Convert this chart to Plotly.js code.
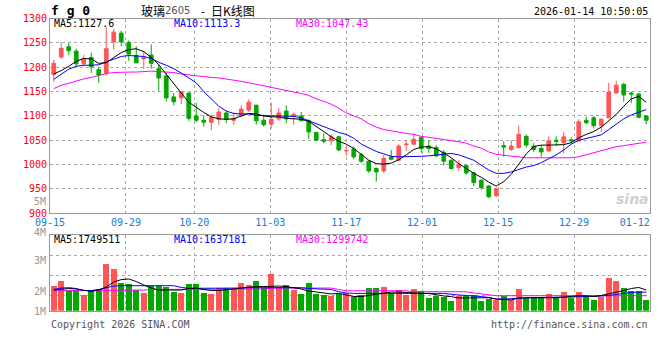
<!DOCTYPE html>
<html>
<head>
<meta charset="utf-8">
<script src="https://cdn.plot.ly/plotly-3.0.1.min.js"></script>
<style>html,body{margin:0;padding:0;background:#fff}#chart{width:660px;height:360px}</style>
</head>
<body>
<div id="chart"></div>
<script>
const dates = ['09-15','09-16','09-17','09-18','09-19','09-22','09-23','09-24','09-25','09-26','09-29','09-30',
'10-09','10-10','10-13','10-14','10-15','10-16','10-17','10-20','10-21','10-22','10-23','10-24','10-27','10-28','10-29','10-30','10-31',
'11-03','11-04','11-05','11-06','11-07','11-10','11-11','11-12','11-13','11-14','11-17','11-18','11-19','11-20','11-21','11-24','11-25','11-26','11-27','11-28',
'12-01','12-02','12-03','12-04','12-05','12-08','12-09','12-10','12-11','12-12','12-15','12-16','12-17','12-18','12-19','12-22','12-23','12-24','12-25','12-26','12-29','12-30','12-31',
'01-05','01-06','01-07','01-08','01-09','01-12','01-13','01-14'];

const open = [1185,1221,1242,1233,1207,1220,1195,1188,1252,1270,
1251,1224,1217,1225,1197,1182,1139,1137,1147,1100,
1091,1087,1093,1106,1091,1100,1112,1122,1091,1083,
1094,1110,1100,1100,1090,1066,1051,1049,1057,1028,
1032,1020,1007,992,987,1016,1009,1041,1042,1056,
1038,1035,1025,1009,994,998,983,968,956,936,
1039,1031,1035,1058,1038,1033,1028,1050,1045,1051,
1049,1091,1096,1080,1096,1147,1165,1147,1145,1100];
const high = [1215,1251,1250,1238,1225,1230,1201,1282,1278,1275,
1255,1243,1234,1247,1206,1188,1147,1150,1148,1127,
1101,1103,1116,1110,1107,1122,1134,1123,1103,1127,
1116,1122,1107,1108,1093,1067,1064,1062,1059,1037,
1037,1024,1008,994,1020,1030,1042,1050,1064,1057,
1050,1040,1030,1010,1009,1000,985,970,958,953,
1048,1050,1080,1062,1044,1040,1058,1058,1067,1056,
1093,1098,1100,1096,1168,1172,1168,1150,1147,1101];
const low = [1170,1217,1225,1201,1202,1188,1168,1183,1236,1243,
1213,1208,1196,1197,1151,1130,1122,1124,1090,1087,
1078,1071,1082,1085,1082,1097,1108,1082,1078,1074,
1090,1085,1082,1089,1053,1049,1044,1040,1028,1018,
1011,1003,983,965,983,1009,1007,1028,1040,1024,
1024,1016,998,990,987,979,956,948,931,934,
1016,1028,1033,1035,1026,1016,1026,1038,1023,1044,
1047,1083,1074,1067,1095,1146,1129,1126,1095,1083];
const close = [1208,1239,1234,1207,1218,1201,1184,1238,1272,1252,
1227,1209,1220,1208,1178,1137,1129,1149,1095,1091,
1087,1097,1108,1093,1095,1114,1128,1090,1082,1093,
1106,1094,1103,1090,1067,1050,1048,1057,1030,1029,
1016,1007,987,985,1013,1011,1038,1042,1052,1033,
1033,1018,1007,992,1001,983,963,953,934,950,
1036,1038,1062,1040,1031,1026,1049,1048,1057,1049,
1088,1086,1080,1093,1149,1163,1143,1145,1097,1091];

const ma5 = [1186,1193,1202,1212,1218,1217,1208,1209,1220,1230,1236,1238,1232,1220,1205,1185,1165,1147,1128,1117,
1107,1098,1094,1093,1094,1100,1105,1104,1100,1098,1098,1095,1094,1093,1089,1078,1068,1057,1048,1042,
1033,1020,1009,1002,1001,1003,1010,1020,1031,1036,1037,1032,1024,1014,1002,992,982,974,964,956,
965,980,1002,1022,1037,1040,1040,1040,1041,1045,1055,1062,1068,1077,1090,1103,1120,1135,1140,1128];
const ma10 = [1175,1186,1196,1202,1204,1204,1205,1211,1217,1222,1224,1223,1222,1218,1210,1204,1197,1188,1178,1168,
1150,1135,1120,1110,1105,1104,1104,1101,1100,1100,1100,1100,1099,1096,1090,1083,1077,1072,1066,1062,
1054,1042,1034,1027,1022,1017,1016,1016,1017,1017,1018,1020,1022,1023,1020,1015,1009,999,989,982,
982,985,990,995,998,1004,1012,1020,1030,1042,1050,1054,1057,1061,1072,1083,1094,1102,1108,1113];
const ma30 = [1156,1163,1167,1172,1176,1179,1183,1187,1189,1190,1190,1190,1191,1192,1191,1190,1189,1186,1184,1182,
1180,1179,1178,1176,1173,1171,1168,1165,1162,1158,1156,1153,1150,1146,1142,1135,1130,1124,1116,1106,
1100,1094,1084,1077,1072,1069,1066,1064,1062,1058,1056,1054,1052,1050,1047,1044,1038,1034,1026,1021,
1019,1017,1015,1014,1014,1014,1014,1014,1014,1014,1016,1020,1024,1029,1033,1037,1039,1041,1043,1046];

// volume, in millions of lots
const volume = [2.09,2.52,1.75,1.75,1.33,1.67,1.84,3.96,3.56,2.37,
2.26,1.75,1.53,2.12,2.09,2.03,1.58,1.53,2.29,2.29,
1.53,1.42,1.95,1.95,1.95,2.37,2.20,2.54,1.90,3.14,
2.01,2.20,1.78,1.44,2.37,1.44,1.36,1.27,1.42,1.50,
1.14,1.33,1.92,1.92,2.01,1.53,1.75,1.33,1.84,1.67,
1.10,1.27,1.19,0.82,1.22,1.27,1.33,0.82,0.99,0.91,
1.27,0.91,1.84,1.10,1.10,1.16,1.42,1.10,1.58,1.10,
1.58,1.33,0.91,1.19,2.77,2.52,1.92,1.67,1.67,0.91];
const vma5 = [1.75,1.84,1.88,1.84,1.75,1.63,1.75,2.01,2.43,2.64,2.69,2.47,2.18,1.92,1.75,1.75,1.75,1.75,1.88,1.92,
1.80,1.71,1.71,1.75,1.84,1.92,2.01,2.05,2.05,2.09,2.09,2.05,1.97,1.84,1.67,1.58,1.50,1.42,1.47,1.33,
1.20,1.20,1.29,1.42,1.53,1.58,1.58,1.54,1.47,1.47,1.46,1.33,1.25,1.19,1.08,1.08,1.10,1.10,1.10,0.99,
0.95,0.91,1.08,1.10,1.10,1.10,1.10,1.10,1.16,1.27,1.27,1.25,1.19,1.29,1.42,1.58,1.71,1.88,1.97,1.75];
const vma10 = [1.81,1.92,1.95,1.88,1.71,1.71,1.80,1.92,2.09,2.12,2.12,2.12,2.12,2.14,2.15,2.18,2.12,1.97,1.90,1.90,
1.90,1.88,1.86,1.86,1.90,1.92,1.95,1.95,1.97,1.99,2.01,2.01,2.01,1.95,1.88,1.84,1.81,1.80,1.61,1.50,
1.47,1.47,1.47,1.47,1.47,1.53,1.53,1.53,1.53,1.50,1.47,1.47,1.46,1.37,1.33,1.29,1.27,1.20,1.12,0.99,
0.99,0.99,1.05,1.10,1.10,1.10,1.10,1.10,1.12,1.16,1.19,1.19,1.20,1.25,1.29,1.39,1.50,1.56,1.56,1.58];
const vma30 = [1.69,1.69,1.69,1.69,1.69,1.69,1.75,1.75,1.75,1.75,1.75,1.75,1.75,1.80,1.80,1.80,1.80,1.80,1.80,1.80,
1.80,1.84,1.84,1.84,1.84,1.84,1.84,1.84,1.84,1.92,1.92,1.92,1.92,1.92,1.92,1.92,1.92,1.92,1.80,1.69,
1.69,1.69,1.69,1.69,1.69,1.69,1.69,1.69,1.61,1.61,1.61,1.61,1.61,1.61,1.61,1.61,1.50,1.42,1.33,1.27,
1.27,1.27,1.27,1.27,1.27,1.27,1.27,1.27,1.27,1.27,1.27,1.27,1.27,1.27,1.27,1.27,1.27,1.27,1.27,1.27];

const priceTicks = [900,950,1000,1050,1100,1150,1200,1250,1300];
const dateTickLabels = ['09-15','09-29','10-20','11-03','11-17','12-01','12-15','12-29','01-12'];
const volGridVals = [1.27,2.97,4.66];
const volTickLabels = ['5M','4M','3M','2M','1M'];
const priceMaLabels = ['MA5:1127.6','MA10:1113.3','MA30:1047.43'];
const volMaLabels = ['MA5:1749511','MA10:1637181','MA30:1299742'];
const titleCode = 'f g 0';
const titleParts = ['玻璃', '2605', '-', '日K线图'];
const stamp = '2026-01-14 10:50:05';
const copyright = 'Copyright 2026 SINA.COM';
const url = 'http://finance.sina.com.cn';

// ---- styling / layout ----
const W = 660, H = 360, L = 50, R = 10;
const UP = '#ff5555', DOWN = '#00a800';
const MONO = 'DejaVu Sans Mono, Liberation Mono, monospace';
const CJK = 'Noto Sans CJK SC';
const GRID = '#aaaaaa', LINE = '#999999';
const px = x => (x - L) / (W - L - R);
const py = y => (H - y) / H;

const xs = dates.map((d, i) => i);
const n = dates.length;
// Sina spaces its date grid by width/(n-1) while candles take width/n
const dateTickVals = dateTickLabels.map(l => dates.indexOf(l) * n / (n - 1) - 0.5);
const gridVals = dateTickVals.slice(0, -1);

const traces = [
  {type: 'candlestick', x: xs, open: open, high: high, low: low, close: close,
   xaxis: 'x', yaxis: 'y', whiskerwidth: 0, hoverinfo: 'skip',
   increasing: {line: {color: UP, width: 1}, fillcolor: UP},
   decreasing: {line: {color: DOWN, width: 1}, fillcolor: DOWN}},
  {type: 'scatter', mode: 'lines', x: xs, y: ma30, line: {color: '#ff00ff', width: 1}, hoverinfo: 'skip'},
  {type: 'scatter', mode: 'lines', x: xs, y: ma10, line: {color: '#0000ff', width: 1}, hoverinfo: 'skip'},
  {type: 'scatter', mode: 'lines', x: xs, y: ma5, line: {color: '#000000', width: 1}, hoverinfo: 'skip'},
  {type: 'bar', x: xs, y: volume, xaxis: 'x', yaxis: 'y2', width: 0.8,
   marker: {color: xs.map(i => close[i] >= open[i] ? UP : DOWN), line: {width: 0}}, hoverinfo: 'skip'},
  {type: 'scatter', mode: 'lines', x: xs, y: vma30, yaxis: 'y2', line: {color: '#ff00ff', width: 1}, hoverinfo: 'skip'},
  {type: 'scatter', mode: 'lines', x: xs, y: vma10, yaxis: 'y2', line: {color: '#0000ff', width: 1}, hoverinfo: 'skip'},
  {type: 'scatter', mode: 'lines', x: xs, y: vma5, yaxis: 'y2', line: {color: '#000000', width: 1}, hoverinfo: 'skip'}
];

const ann = [];
function txt(text, x, y, opts) {
  ann.push(Object.assign({text: text, xref: 'paper', yref: 'paper', x: px(x), y: py(y),
    showarrow: false, xanchor: 'left', yanchor: 'middle', borderpad: 0,
    font: {family: MONO, size: 10, color: '#000'}}, opts || {}));
}
txt(titleCode, 50, 10, {font: {family: MONO, size: 13, color: '#000', weight: 'bold'}});
txt(titleParts[0], 140, 10, {font: {family: CJK, size: 12, color: '#000'}});
txt(titleParts[1], 164, 10.5, {font: {family: 'DejaVu Sans', size: 10, color: '#555'}});
txt(titleParts[2], 200, 10, {font: {family: CJK, size: 12, color: '#000'}});
txt(titleParts[3], 210, 10, {font: {family: CJK, size: 12, color: '#000'}});
txt(stamp, 649, 12, {xanchor: 'right'});
const maColors = ['#000000', '#0000ff', '#ff00ff'];
const maX = [53, 173, 295];
priceMaLabels.forEach((t, k) => txt(t, maX[k], 24, {font: {family: MONO, size: 10, color: maColors[k]}}));
volMaLabels.forEach((t, k) => txt(t, maX[k], 239, {font: {family: MONO, size: 10, color: maColors[k]}}));
const volLabelY = [201, 233, 260.7, 291, 311.7];
volTickLabels.forEach((t, k) => txt(t, 47, volLabelY[k], {xanchor: 'right', font: {family: MONO, size: 10, color: '#999999'}}));
txt(copyright, 50, 324, {font: {family: MONO, size: 10, color: '#555555'}});
txt(url, 649, 324, {xanchor: 'right', font: {family: MONO, size: 10, color: '#555555'}});
txt('sina', 650, 199, {xanchor: 'right', font: {family: 'DejaVu Sans', size: 14, color: '#d0d0d0', style: 'italic', weight: 'bold'}});

const layout = {
  width: W, height: H, margin: {l: L, r: R, t: 0, b: 0},
  paper_bgcolor: '#ffffff', plot_bgcolor: '#ffffff', showlegend: false,
  bargap: 0, dragmode: false,
  xaxis: {domain: [0, 1], anchor: 'y', range: [-0.5, n - 0.5], type: 'linear',
    tickmode: 'array', tickvals: dateTickVals, ticktext: dateTickLabels, ticks: '',
    tickfont: {family: MONO, size: 10, color: '#1a7ad6'}, showgrid: false, zeroline: false,
    minor: {tickmode: 'array', tickvals: gridVals, showgrid: true, gridcolor: GRID, griddash: 'dot', gridwidth: 1, ticks: ''},
    showline: true, linecolor: LINE, linewidth: 1, mirror: 'all', rangeslider: {visible: false}, fixedrange: true},
  yaxis: {domain: [py(213.3), py(18.5)], anchor: 'x', range: [900, 1300],
    tickmode: 'array', tickvals: priceTicks, ticks: '',
    tickfont: {family: MONO, size: 10, color: '#ff0000'}, showgrid: true, gridcolor: GRID, griddash: 'dot',
    zeroline: false, showline: true, linecolor: LINE, linewidth: 1, mirror: true, fixedrange: true},
  yaxis2: {domain: [py(310.7), py(234.5)], anchor: 'x', range: [0, 6.46],
    tickmode: 'array', tickvals: volGridVals, showticklabels: false, ticks: '',
    showgrid: true, gridcolor: GRID, griddash: 'dot',
    zeroline: false, showline: true, linecolor: LINE, linewidth: 1, mirror: true, fixedrange: true},
  annotations: ann
};

Plotly.newPlot('chart', traces, layout, {staticPlot: true, displayModeBar: false});
</script>
</body>
</html>
